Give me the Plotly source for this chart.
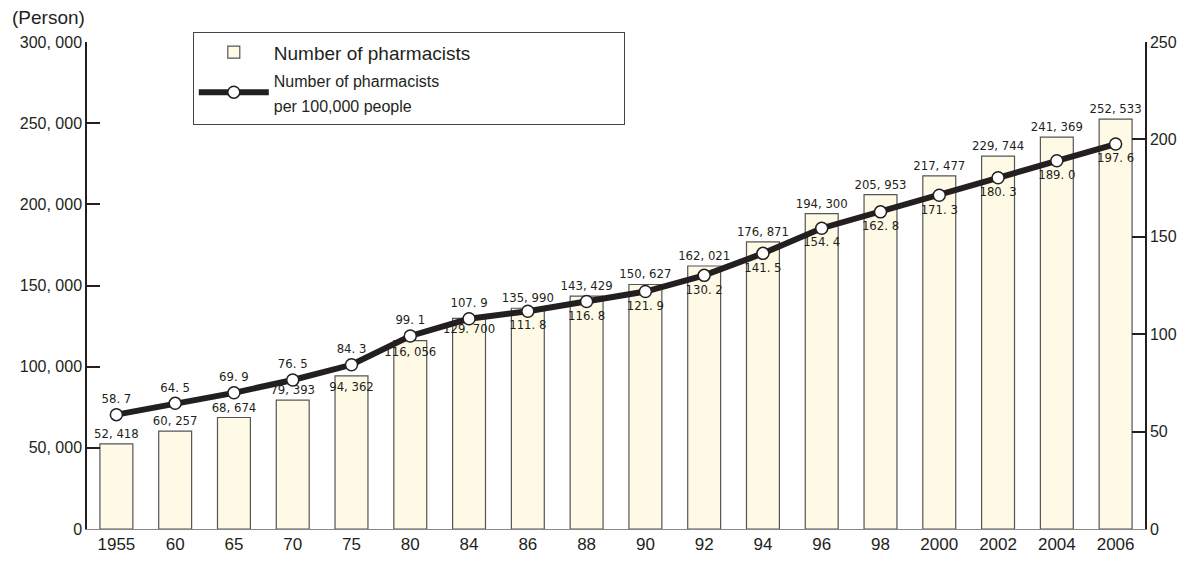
import plotly.graph_objects as go

years = ["1955", "60", "65", "70", "75", "80", "84", "86", "88", "90",
         "92", "94", "96", "98", "2000", "2002", "2004", "2006"]
pharmacists = [52418, 60257, 68674, 79393, 94362, 116056, 129700, 135990, 143429,
               150627, 162021, 176871, 194300, 205953, 217477, 229744, 241369, 252533]
pharmacist_labels = ["52, 418", "60, 257", "68, 674", "79, 393", "94, 362", "116, 056",
                     "129. 700", "135, 990", "143, 429", "150, 627", "162, 021", "176, 871",
                     "194, 300", "205, 953", "217, 477", "229, 744", "241, 369", "252, 533"]
per_100k = [58.7, 64.5, 69.9, 76.5, 84.3, 99.1, 107.9, 111.8, 116.8, 121.9,
            130.2, 141.5, 154.4, 162.8, 171.3, 180.3, 189.0, 197.6]
per_100k_labels = ["58. 7", "64. 5", "69. 9", "76. 5", "84. 3", "99. 1", "107. 9", "111. 8",
                   "116. 8", "121. 9", "130. 2", "141. 5", "154. 4", "162. 8", "171. 3",
                   "180. 3", "189. 0", "197. 6"]
bar_label_pos = ["outside"] * 4 + ["inside"] * 3 + ["outside"] * 11
line_label_pos = ["top center"] * 7 + ["bottom center"] * 11

left_ticks = [0, 50000, 100000, 150000, 200000, 250000, 300000]
left_tick_text = ["0", "50, 000", "100, 000", "150, 000", "200, 000", "250, 000", "300, 000"]
right_ticks = [0, 50, 100, 150, 200, 250]

INK = "#231f20"
NARROW = "Liberation Sans Narrow, Noto Sans Condensed, DejaVu Sans Condensed, Liberation Sans, sans-serif"
SANS = "Liberation Sans, Arial, sans-serif"
PAD = "&nbsp;" * 28

fig = go.Figure()
fig.add_trace(go.Bar(
    x=years, y=pharmacists, name="Number of pharmacists" + PAD,
    marker=dict(color="#fffae6", line=dict(color="#555555", width=1.2)),
    width=0.56,
    text=pharmacist_labels, textposition=bar_label_pos,
    insidetextanchor="end", textangle=0, constraintext="none",
    cliponaxis=False,
    textfont=dict(family=NARROW, size=13, color=INK),
    insidetextfont=dict(family=NARROW, size=13, color=INK),
    outsidetextfont=dict(family=NARROW, size=13, color=INK),
))
fig.add_trace(go.Scatter(
    x=years, y=per_100k, yaxis="y2", mode="lines+markers+text",
    name="<span style='font-size:16px'>Number of pharmacists<br>per 100,000 people</span>",
    line=dict(color=INK, width=6),
    marker=dict(size=12, color="white", line=dict(color=INK, width=1.5)),
    text=per_100k_labels, textposition=line_label_pos,
    textfont=dict(family=NARROW, size=13, color=INK),
    cliponaxis=False,
))

# The page body has an 8px margin; size the figure so the plot area lands where the reference has it.
fig.update_layout(
    width=1184, height=558,
    margin=dict(l=79, r=47, t=34, b=31),
    paper_bgcolor="white", plot_bgcolor="white",
    font=dict(family=SANS, size=16, color=INK),
    showlegend=True,
    legend=dict(x=0.1, y=1.02, xanchor="left", yanchor="top",
                bgcolor="white", bordercolor="#444444", borderwidth=1,
                font=dict(family=SANS, size=19, color=INK),
                itemwidth=70, tracegroupgap=6),
    xaxis=dict(type="category", range=[-0.5, 17.5], showline=True, linecolor="#888888",
               linewidth=1, ticks="", tickfont=dict(family=SANS, size=17, color=INK),
               showgrid=False),
    yaxis=dict(range=[0, 300000], tickvals=left_ticks, ticktext=left_tick_text,
               showline=True, linecolor=INK, linewidth=1.5, ticks="inside", ticklen=13,
               tickwidth=2, tickcolor=INK, showgrid=False, zeroline=False,
               layer="above traces",
               tickfont=dict(family=SANS, size=16, color=INK)),
    yaxis2=dict(range=[0, 250], tickvals=right_ticks, overlaying="y", side="right",
                showline=True, linecolor=INK, linewidth=1.5, ticks="inside", ticklen=13,
                tickwidth=2, tickcolor=INK, showgrid=False, zeroline=False,
                layer="above traces",
                tickfont=dict(family=SANS, size=16, color=INK)),
    annotations=[dict(text="(Person)", xref="paper", yref="paper", x=-0.073, y=1.0,
                      xanchor="left", yanchor="middle", yshift=25, showarrow=False,
                      font=dict(family=SANS, size=19, color=INK))],
)

fig.write_html("out.html")
